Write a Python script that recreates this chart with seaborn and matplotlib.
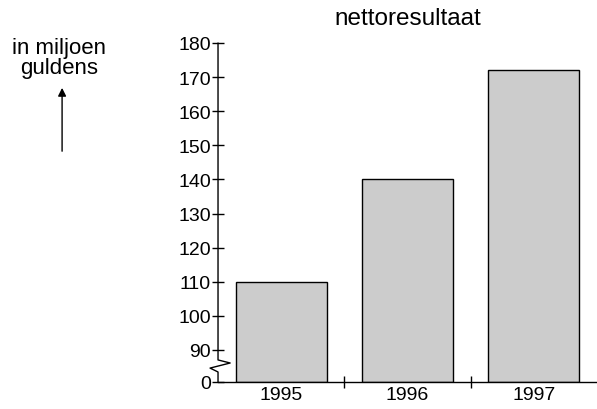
import numpy as np
import pandas as pd
import seaborn as sns
import matplotlib.pyplot as plt

# data
years = ["1995", "1996", "1997"]
nettoresultaat = [110, 140, 172]
y_ticks = [0, 90, 100, 110, 120, 130, 140, 150, 160, 170, 180]

df = pd.DataFrame({"jaar": years, "nettoresultaat": nettoresultaat})

sns.set_theme(style="white")
plt.rcParams["font.family"] = ["Liberation Sans", "DejaVu Sans"]
plt.rcParams["text.color"] = "black"
plt.rcParams["xtick.color"] = "black"
plt.rcParams["ytick.color"] = "black"


# broken axis: 0..90 squeezed into a small strip at the bottom
def forward(v):
    v = np.asarray(v, dtype=float)
    return np.where(v >= 90, v, 80.6 + v * 9.4 / 90)


def inverse(y):
    y = np.asarray(y, dtype=float)
    return np.where(y >= 90, y, (y - 80.6) * 90 / 9.4)


fig = plt.figure(figsize=(5.97, 4.1), dpi=100)
ax = fig.add_axes([0.3652, 0.0659, 0.6348, 0.8268])
ax.set_yscale("function", functions=(forward, inverse))

sns.barplot(data=df, x="jaar", y="nettoresultaat", color="#cccccc",
            edgecolor="black", linewidth=1, width=0.72, saturation=1, ax=ax)

ax.set_ylim(0, 180)
ax.set_xlim(-0.5, 2.5)
ax.set_yticks(y_ticks)
ax.set_yticklabels([str(t) for t in y_ticks])
ax.yaxis.set_minor_locator(plt.NullLocator())
ax.set_xticks([0.5, 1.5], minor=True)
ax.tick_params(axis="x", which="major", bottom=True, length=0, labelsize=14, pad=3)
ax.tick_params(axis="x", which="minor", bottom=True, length=8, direction="inout", width=1)
ax.tick_params(axis="y", left=True, length=8, direction="inout", width=1, labelsize=14, pad=1)
ax.set_xlabel("")
ax.set_ylabel("")

for s in ["top", "right", "left"]:
    ax.spines[s].set_visible(False)
ax.spines["bottom"].set_color("black")
ax.spines["bottom"].set_linewidth(1)

# left axis line with the zigzag break
ax.plot([0, 0, 0.032, -0.021, 0, 0], [1, 0.065, 0.056, 0.041, 0.0295, 0],
        transform=ax.transAxes, color="black", lw=1, clip_on=False)

ax.set_title("nettoresultaat", fontsize=17.5, pad=14)

fig.text(0.099, 0.882, "in miljoen", ha="center", va="center", fontsize=16)
fig.text(0.099, 0.832, "guldens", ha="center", va="center", fontsize=16)
ax.annotate("", xy=(0.104, 0.79), xytext=(0.104, 0.622),
            xycoords="figure fraction", textcoords="figure fraction",
            arrowprops=dict(arrowstyle="-|>", color="black", lw=1, mutation_scale=12))

fig.savefig("out.png", dpi=100)
